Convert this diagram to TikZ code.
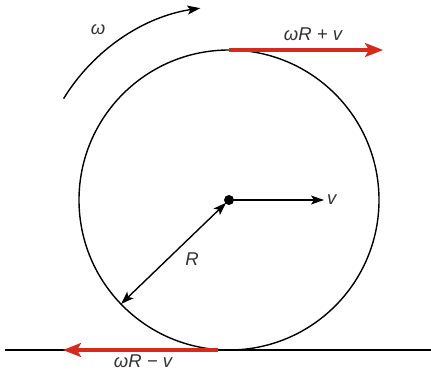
\documentclass[tikz,border=0pt]{standalone}
\usepackage{fontspec}
\setmainfont{Liberation Sans}
\usetikzlibrary{arrows.meta}
\definecolor{vred}{HTML}{D62A1C}
\definecolor{txt}{HTML}{333333}
\tikzset{
  lbl/.style={text=txt,font=\fontsize{18.5}{22}\selectfont\itshape,inner sep=1pt},
  tip/.style={Stealth[length=13pt,width=9pt,inset=3pt]},
  blk/.style={line width=1.4pt,-{Stealth[length=13pt,width=9pt,inset=3pt]}},
  redarrow/.style={vred,line width=3.2pt,-{Stealth[length=18pt,width=14pt,inset=4pt]}},
}
\begin{document}
\begin{tikzpicture}[x=1pt,y=-1pt]
\useasboundingbox (0,0) rectangle (431,378);
\coordinate (C) at (229,200);
\coordinate (gl) at (5,350);
\coordinate (gr) at (431,350);
\coordinate (top) at (229,50);
\coordinate (topend) at (383,50);
\coordinate (bot) at (218,350);
\coordinate (botend) at (63,350);
\coordinate (rim) at (121,304);
\coordinate (vend) at (324,200);
% ground
\draw[line width=1.5pt] (gl) -- (gr);
% wheel
\draw[line width=1.4pt] (C) circle[radius=150];
% red arrows
\draw[redarrow] (top) -- (topend);
\draw[redarrow] (bot) -- (botend);
% velocity
\draw[blk] (C) -- (vend);
\node[lbl,anchor=west] (v) at (326,200) {v};
% radius
\draw[line width=1.4pt,{Stealth[length=13pt,width=9pt,inset=3pt]}-{Stealth[length=13pt,width=9pt,inset=3pt]},shorten <=4pt] (C) -- (rim);
\node[lbl] (R) at (192,259) {R};
% center dot
\fill (C) circle[radius=5];
% omega arrow
\draw[blk] (C) ++(-148.5:194) arc[start angle=-148.5,end angle=-98.5,radius=194];
\node[lbl] (w) at (98,30) {ω};
% labels
\node[lbl] (top lbl) at (313,34) {ωR + v};
\node[lbl] (bot lbl) at (143,361) {ωR − v};
\end{tikzpicture}
\end{document}
